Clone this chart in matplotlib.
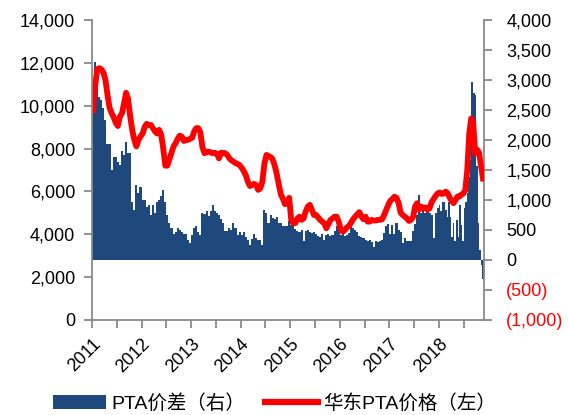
import numpy as np
import matplotlib
matplotlib.use("Agg")
import matplotlib.pyplot as plt
from matplotlib.patches import Patch
from matplotlib.lines import Line2D

plt.rcParams["font.family"] = ["Liberation Sans", "Noto Sans CJK SC"]

# PTA spread (right axis), roughly semi-monthly readings per year
spread = {
    2011: [2450, 3300, 2920, 2720, 2670, 2530, 2330, 1940, 1940, 1500, 1720, 1720,
           1640, 1580, 1810, 1750, 1970, 1780, 1780, 970, 830, 1250, 1110, 1220],
    2012: [1000, 1000, 890, 920, 750, 920, 780, 970, 1000, 1060, 1170, 970,
           750, 610, 530, 440, 470, 530, 500, 470, 440, 440, 330, 280],
    2013: [420, 530, 560, 470, 420, 790, 760, 820, 740, 820, 920, 820,
           790, 750, 680, 610, 480, 480, 530, 500, 610, 530, 420, 470],
    2014: [420, 470, 380, 340, 250, 350, 440, 360, 340, 340, 250, 840,
           780, 620, 750, 700, 690, 720, 610, 610, 560, 560, 560, 650],
    2015: [580, 560, 520, 480, 470, 500, 310, 480, 500, 470, 450, 460,
           430, 400, 390, 430, 330, 420, 440, 400, 420, 480, 560, 520],
    2016: [420, 440, 400, 420, 450, 560, 540, 500, 470, 400, 380, 360,
           340, 320, 330, 300, 220, 320, 300, 310, 330, 450, 560, 600],
    2017: [440, 580, 440, 610, 500, 460, 290, 360, 310, 320, 320, 490,
           600, 750, 1080, 780, 860, 780, 830, 780, 750, 360, 790, 860],
    2018: [920, 810, 960, 960, 830, 720, 970, 720, 390, 610, 310, 670,
           390, 920, 580, 310, 860, 970, 1110, 1390, 1670, 2960, 2790, 2750,
           1560, 610, 170, -80, -310],
}

# East China PTA price (left axis)
price = {
    2011: [9800, 10900, 11700, 11750, 11700, 11550, 11200, 10500, 9900, 9650, 9450, 9200,
           9050, 9490, 9640, 10100, 10600, 10300, 9500, 8850, 8400, 8100, 8400, 8560],
    2012: [8700, 9000, 9150, 9100, 9100, 8950, 8800, 8700, 8870, 8650, 8000, 7200,
           7200, 7500, 7800, 8100, 8250, 8450, 8600, 8550, 8350, 8400, 8400, 8450],
    2013: [8500, 8800, 8950, 8950, 8750, 8050, 7780, 7850, 7850, 7820, 7780, 7800,
           7750, 7540, 7800, 7800, 7780, 7700, 7550, 7450, 7390, 7320, 7280, 7230],
    2014: [7100, 6950, 6750, 6450, 6250, 6300, 6350, 6300, 6070, 6140, 6450, 7300,
           7700, 7650, 7600, 7500, 7200, 6800, 6300, 5850, 5650, 5400, 5500, 5700],
    2015: [4670, 4510, 4520, 4740, 4820, 4670, 4740, 5060, 5290, 5370, 5130, 4900,
           4900, 4790, 4670, 4590, 4510, 4280, 4480, 4670, 4740, 4820, 4820, 4590],
    2016: [4200, 4120, 4200, 4320, 4390, 4540, 4710, 4820, 4930, 5030, 4820, 4700,
           4820, 4590, 4590, 4670, 4640, 4640, 4670, 4670, 4700, 4900, 5130, 5370],
    2017: [5560, 5650, 5750, 5700, 5450, 5000, 4900, 4820, 4740, 4620, 4670, 4800,
           5300, 5450, 5150, 5290, 5200, 5250, 5150, 5210, 5500, 5650, 5800, 5910],
    2018: [5950, 5880, 5900, 5990, 5910, 5720, 5560, 5450, 5600, 5760, 5760, 5850,
           5900, 6070, 7000, 8700, 9400, 9250, 7780, 7950, 7800, 7200, 6600],
}

years = list(range(2011, 2019))
year_span = {y: 1.0 for y in years}
year_span[2018] = 0.91

bar_x, bar_v, bar_w = [], [], []
for y in years:
    n = len(spread[y])
    step = year_span[y] / n
    for i, v in enumerate(spread[y]):
        bar_x.append(y + (i + 0.5) * step)
        bar_v.append(v)
        bar_w.append(step)

line_x, line_v = [], []
for y in years:
    n = len(price[y])
    step = year_span[y] / n
    for i, v in enumerate(price[y]):
        line_x.append(y + (i + 0.5) * step)
        line_v.append(v)

bar_color = "#1F497D"
line_color = "#FF0000"
spine_color = "#898989"

fig = plt.figure(figsize=(5.68, 4.15), dpi=100)
ax = fig.add_axes([0.162, 0.229, 0.690, 0.723])
ax2 = ax.twinx()

ax2.bar(bar_x, bar_v, width=bar_w, color=bar_color, linewidth=0, align="center")
ax.plot(line_x, line_v, color=line_color, linewidth=4.2, solid_joinstyle="round")

ax.set_zorder(ax2.get_zorder() + 1)
ax.patch.set_visible(False)

ax.set_xlim(2011.0, 2018.91)
ax.set_ylim(0, 14000)
ax2.set_ylim(-1000, 4000)

left_ticks = list(range(0, 14001, 2000))
ax.set_yticks(left_ticks)
ax.set_yticklabels([f"{t:,}" for t in left_ticks], fontsize=13)

right_ticks = list(range(-1000, 4001, 500))
ax2.set_yticks(right_ticks)
ax2.set_yticklabels([f"({-t:,})" if t < 0 else f"{t:,}" for t in right_ticks], fontsize=13)

xt = [2011 + 0.5 * k for k in range(16)]
ax.set_xticks(xt)
ax.set_xticklabels([str(int(t)) if t == int(t) else "" for t in xt],
                   rotation=45, ha="right", va="top", rotation_mode="anchor", fontsize=13)

for a in (ax, ax2):
    a.spines["top"].set_visible(False)
    for s in ("left", "right", "bottom"):
        a.spines[s].set_color(spine_color)
        a.spines[s].set_linewidth(1.3)
    a.tick_params(colors=spine_color, labelcolor="black", width=1.3, length=6)
ax.spines["right"].set_visible(False)
ax2.spines["left"].set_visible(False)
ax2.spines["bottom"].set_visible(False)
ax.tick_params(axis="x", pad=5)
ax.tick_params(axis="y", pad=6)
ax2.tick_params(axis="y", pad=10)
for lbl, t in zip(ax2.get_yticklabels(), right_ticks):
    lbl.set_color(line_color if t < 0 else "black")

handles = [Patch(facecolor=bar_color, edgecolor="none"),
           Line2D([0], [0], color=line_color, linewidth=4.5)]
fig.legend(handles, ["PTA价差（右）", "华东PTA价格（左）"],
           loc="center", bbox_to_anchor=(0.484, 0.028), ncol=2, frameon=False,
           fontsize=14, handlelength=2.7, handleheight=0.7, handletextpad=0.3,
           columnspacing=1.0)

fig.savefig("out.png", dpi=100)
